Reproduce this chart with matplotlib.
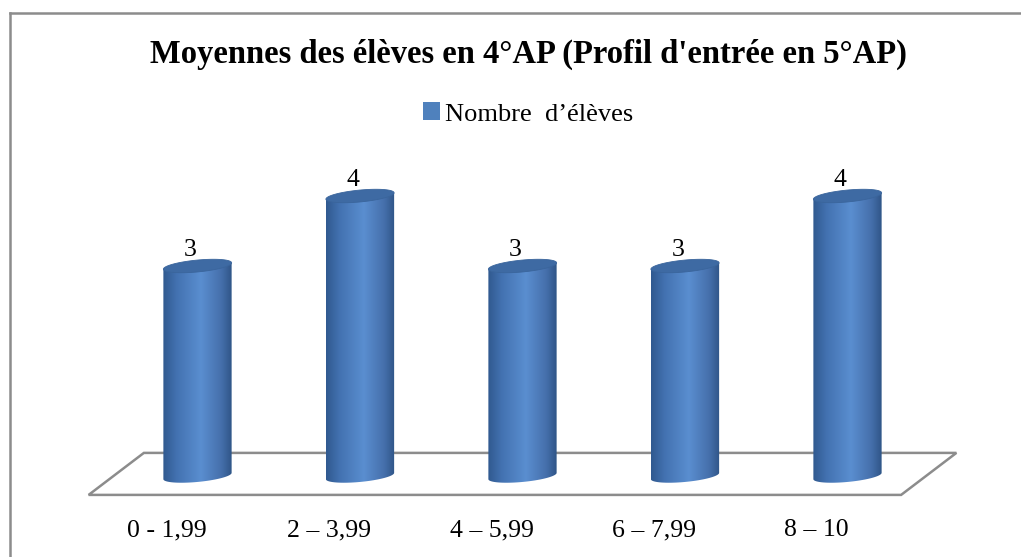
import numpy as np
import matplotlib
matplotlib.use("Agg")
import matplotlib.pyplot as plt
from matplotlib.patches import Polygon, Patch
from matplotlib.colors import LinearSegmentedColormap
from matplotlib.lines import Line2D

TITLE = "Moyennes des élèves en 4°AP (Profil d'entrée en 5°AP)"
SERIES = "Nombre  d’élèves"
CATEGORIES = ["0 - 1,99", "2 – 3,99", "4 – 5,99", "6 – 7,99", "8 – 10"]
VALUES = [3, 4, 3, 3, 4]

W, H = 1021, 557
DPI = 100

plt.rcParams["font.family"] = ["Liberation Serif", "DejaVu Serif"]

fig = plt.figure(figsize=(W / DPI, H / DPI), dpi=DPI)
ax = fig.add_axes([0, 0, 1, 1])
ax.set_axis_off()

# one category = 162.5 px, one unit of value = 70 px
x0_px, step_px = 197.5, 162.5
base_px, unit_px = 81, 70
ax.set_xlim(-x0_px / step_px, (W - x0_px) / step_px)
ax.set_ylim(-base_px / unit_px, (H - base_px) / unit_px)

# floor (3D plane under the bars)
dx, back_y, front_y = 0.17, 0.33, -0.27
n = len(CATEGORIES)
floor = Polygon([(-0.5 - dx, front_y), (-0.5 + dx, back_y),
                 (n - 0.5 + dx, back_y), (n - 0.5 - dx, front_y)],
                closed=True, facecolor="white", edgecolor="#8c8c8c", lw=1.8, zorder=1)
ax.add_patch(floor)

cyl_cmap = LinearSegmentedColormap.from_list(
    "cyl", [(0.0, "#30598f"), (0.2, "#4372b1"), (0.55, "#5a8ed0"),
            (0.85, "#456fab"), (1.0, "#2f5587")])
grad = np.linspace(0, 1, 256).reshape(1, -1)

half_w, ell_h, tilt = 0.21, 0.085, 0.045


def ellipse_pts(cx, cy, t):
    return np.column_stack([cx + half_w * np.cos(t),
                            cy + ell_h * np.sin(t) + tilt * np.cos(t)])


for i, v in enumerate(VALUES):
    top_left = (i - half_w, v - tilt)
    top_right = (i + half_w, v + tilt)
    bottom = ellipse_pts(i, 0, np.linspace(0, -np.pi, 60))
    body_pts = np.vstack([[top_left, top_right], bottom])
    body = Polygon(body_pts, closed=True, facecolor="none", edgecolor="none")
    ax.add_patch(body)
    img = ax.imshow(grad, cmap=cyl_cmap, aspect="auto", zorder=2,
                    extent=(i - half_w, i + half_w, -ell_h - tilt - 0.05, v + tilt),
                    interpolation="bilinear")
    img.set_clip_path(body)
    cap = Polygon(ellipse_pts(i, v, np.linspace(0, 2 * np.pi, 80)), closed=True,
                  facecolor="#3e6aa3", edgecolor="#3a659c", lw=0.6, zorder=3)
    ax.add_patch(cap)
    ax.text(i - 0.045, v + 0.15, str(v), ha="center", va="baseline",
            fontsize=18.5, color="black", zorder=4)

for i, lab in enumerate(CATEGORIES):
    ax.text(i - 0.19, -0.857, lab, ha="center", va="baseline", fontsize=18.5)

fig.text(528 / W, 1 - 63 / H, TITLE, ha="center", va="baseline",
         fontsize=23.5, fontweight="bold")

leg = ax.legend([Patch(facecolor="#4f81bd", edgecolor="none")], [SERIES],
                loc="center", bbox_to_anchor=(528 / W, 1 - 114 / H),
                bbox_transform=fig.transFigure, frameon=False,
                fontsize=19, handlelength=0.65, handleheight=0.65,
                handletextpad=0.2, borderpad=0)

# chart area border (left and top edges visible)
fig.add_artist(Line2D([10 / W, 10 / W], [0, 1 - 13 / H], color="#8c8c8c",
                      lw=1.8, transform=fig.transFigure))
fig.add_artist(Line2D([10 / W, 1], [1 - 13 / H, 1 - 13 / H], color="#8c8c8c",
                      lw=1.8, transform=fig.transFigure))

fig.savefig("out.png", dpi=DPI, facecolor="white")
